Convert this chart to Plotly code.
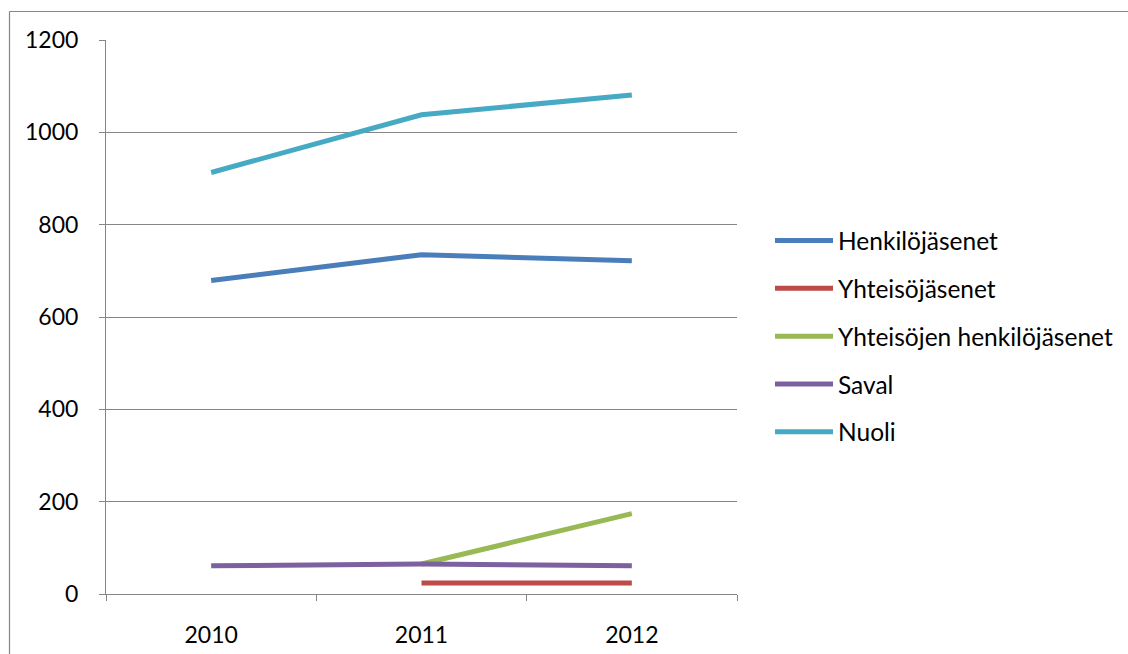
import plotly.graph_objects as go

years = ["2010", "2011", "2012"]
henkilojasenet = [679, 735, 722]
yhteisojasenet = [None, 24, 24]
yhteisojen_henkilojasenet = [None, 65, 174]
saval = [61, 65, 61]
nuoli = [913, 1038, 1081]

series = [
    ("Henkilöjäsenet", henkilojasenet, "#4A7EBB"),
    ("Yhteisöjäsenet", yhteisojasenet, "#BE4B48"),
    ("Yhteisöjen henkilöjäsenet", yhteisojen_henkilojasenet, "#98B954"),
    ("Saval", saval, "#7D60A0"),
    ("Nuoli", nuoli, "#46AAC5"),
]

FONT = "Lato"
FS_TICK = 23
FS_LEG = 24.5
fig = go.Figure()
for i, (name, vals, color) in enumerate(series):
    fig.add_trace(go.Scatter(
        x=years, y=vals, name=name, mode="lines",
        line=dict(color=color, width=5),
        legendgroup=f"g{i}",
    ))

L, R, T, B = 106, 391, 40, 60
W, H = 1128, 654
pw, ph = W - L - R, H - T - B

def px(xp):
    return (xp - L) / pw

def py(yp):
    return (H - B - yp) / ph

fig.update_layout(
    width=W, height=H,
    margin=dict(l=L, r=R, t=T, b=B, pad=0, autoexpand=False),
    plot_bgcolor="white", paper_bgcolor="white",
    font=dict(family=FONT, size=FS_TICK, color="#000000"),
    showlegend=True,
    legend=dict(
        x=px(770), y=py(218), xanchor="left", yanchor="top",
        font=dict(family=FONT, size=FS_LEG),
        tracegroupgap=13,
        itemwidth=58,
        bgcolor="rgba(0,0,0,0)",
    ),
    xaxis=dict(
        type="category", range=[-0.5, 2.5],
        tickson="boundaries", ticks="outside", ticklen=6,
        tickcolor="#868686", tickwidth=1,
        showline=True, linecolor="#868686", linewidth=1,
        showgrid=False, zeroline=False,
        ticklabelstandoff=20, automargin=False,
        tickfont=dict(family=FONT, size=FS_TICK),
    ),
    yaxis=dict(
        range=[0, 1200], dtick=200, tick0=0,
        ticks="outside", ticklen=6, tickcolor="#868686", tickwidth=1,
        showline=True, linecolor="#868686", linewidth=1,
        showgrid=True, gridcolor="#868686", gridwidth=1,
        zeroline=False, automargin=False,
        ticklabelstandoff=16,
        tickfont=dict(family=FONT, size=FS_TICK),
    ),
    shapes=[
        dict(type="line", xref="paper", yref="paper",
             x0=px(9.5), x1=px(1140), y0=py(11.5), y1=py(11.5),
             line=dict(color="#868686", width=1.2)),
        dict(type="line", xref="paper", yref="paper",
             x0=px(9.5), x1=px(9.5), y0=py(11.5), y1=py(670),
             line=dict(color="#868686", width=1.2)),
    ],
)

fig.write_html("out.html")
